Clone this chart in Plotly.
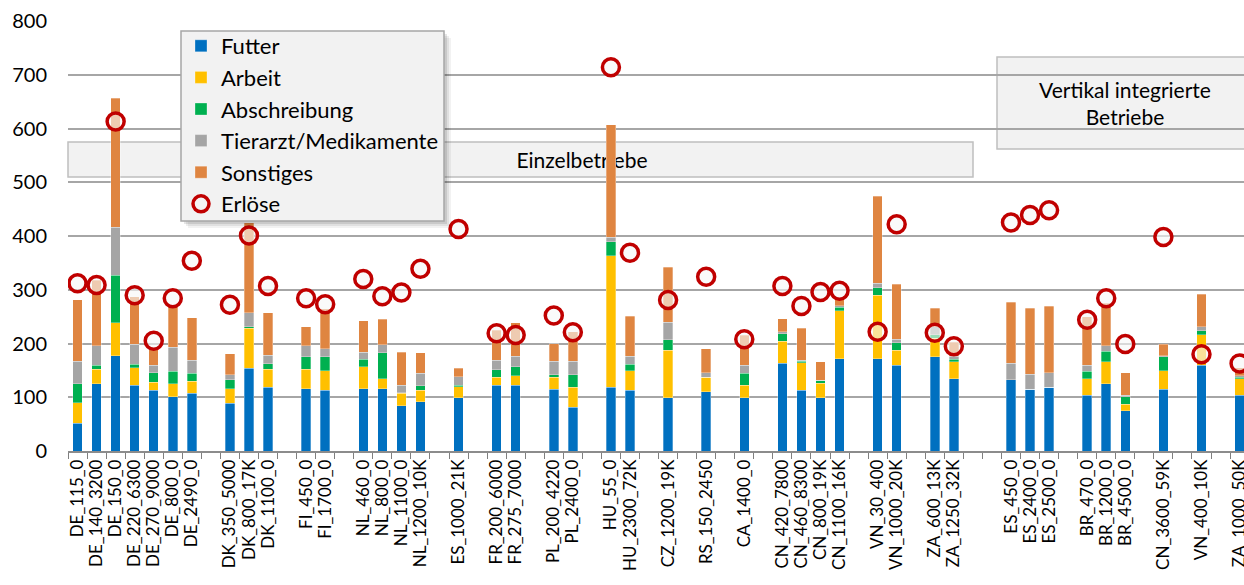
import plotly.graph_objects as go

# Farm groups (Einzelbetriebe, then vertically integrated farms)
single_groups = [
    ["DE_115_0", "DE_140_3200", "DE_150_0", "DE_220_6300", "DE_270_9000", "DE_800_0", "DE_2490_0"],
    ["DK_350_5000", "DK_800_17K", "DK_1100_0"],
    ["FI_450_0", "FI_1700_0"],
    ["NL_460_0", "NL_800_0", "NL_1100_0", "NL_1200_10K"],
    ["ES_1000_21K"],
    ["FR_200_6000", "FR_275_7000"],
    ["PL_200_4220", "PL_2400_0"],
    ["HU_55_0", "HU_2300_72K"],
    ["CZ_1200_19K"],
    ["RS_150_2450"],
    ["CA_1400_0"],
    ["CN_420_7800", "CN_460_8300", "CN_800_19K", "CN_1100_16K"],
    ["VN_30_400", "VN_1000_20K"],
    ["ZA_600_13K", "ZA_1250_32K"],
]
integrated_groups = [
    ["ES_450_0", "ES_2400_0", "ES_2500_0"],
    ["BR_470_0", "BR_1200_0", "BR_4500_0"],
    ["CN_3600_59K"],
    ["VN_400_10K"],
    ["ZA_1000_50K"],
]

# Cost components per farm, in farm order
futter = [52, 125, 177, 122, 113, 101, 107, 89, 154, 119, 116, 113, 116, 116, 84, 92, 99,
          122, 122, 115, 81, 119, 113, 99, 110, 99, 163, 113, 99, 172, 172, 160, 175, 134,
          133, 115, 119, 104, 125, 75, 115, 160, 104]
arbeit = [38, 27, 62, 33, 15, 24, 23, 27, 74, 33, 36, 36, 41, 18, 23, 21, 21,
          15, 18, 22, 38, 244, 36, 88, 27, 23, 41, 51, 27, 89, 118, 27, 35, 32,
          0, 0, 0, 30, 41, 12, 34, 56, 30]
abschreibung = [35, 8, 88, 6, 18, 23, 15, 17, 3, 10, 23, 26, 14, 49, 1, 8, 2,
                14, 17, 5, 23, 26, 12, 20, 0, 23, 14, 3, 5, 6, 14, 14, 6, 5,
                0, 0, 0, 14, 20, 14, 26, 8, 3]
tierarzt = [42, 36, 89, 38, 14, 45, 24, 9, 26, 16, 21, 15, 13, 15, 14, 24, 16,
            18, 19, 25, 25, 9, 15, 33, 9, 15, 4, 2, 1, 3, 8, 7, 15, 5,
            30, 28, 27, 12, 10, 3, 2, 7, 3]
sonstiges = [114, 122, 240, 88, 28, 77, 79, 39, 168, 79, 35, 75, 58, 47, 62, 38, 16,
             56, 63, 33, 55, 209, 75, 102, 44, 55, 24, 59, 34, 15, 162, 102, 35, 26,
             114, 123, 123, 90, 79, 42, 22, 61, 15]
erloese = [312, 309, 613, 290, 205, 284, 354, 272, 401, 307, 284, 273, 320, 288, 295, 339, 413,
           219, 216, 252, 221, 714, 369, 281, 324, 208, 307, 270, 296, 298, 222, 422, 220, 195,
           425, 439, 448, 244, 284, 199, 398, 180, 163]

y_ticks = [0, 100, 200, 300, 400, 500, 600, 700, 800]

# Build category order with empty separator slots between groups
order = []
gap_id = [0]


def add_gap():
    gap_id[0] += 1
    order.append(" " * gap_id[0])


for i, g in enumerate(single_groups):
    if i:
        add_gap()
    order.extend(g)
add_gap()
add_gap()
for i, g in enumerate(integrated_groups):
    if i:
        add_gap()
    order.extend(g)

farms = [f for g in single_groups + integrated_groups for f in g]

FONT = "Lato"
series = [
    ("Futter", futter, "#0070C0"),
    ("Arbeit", arbeit, "#FFC000"),
    ("Abschreibung", abschreibung, "#00B050"),
    ("Tierarzt/Medikamente", tierarzt, "#A5A5A5"),
    ("Sonstiges", sonstiges, "#DF8541"),
]

fig = go.Figure()
for name, vals, col in series:
    fig.add_trace(go.Bar(
        x=farms, y=vals, name=name,
        marker=dict(color=col, line=dict(width=0.6, color="rgba(255,255,255,0.5)")),
    ))

fig.add_trace(go.Scatter(
    x=farms, y=erloese, name="Erlöse", mode="markers",
    marker=dict(symbol="circle", size=17, color="rgba(247,247,247,0.62)",
                line=dict(color="#C00000", width=3.5)),
))

W, H = 1244, 585
ML, MR, MT, MB = 68, 0, 21, 134
PW, PH = W - ML - MR, H - MT - MB


def px_x(px):
    return (px - ML) / PW


def px_y(py):
    return (H - MB - py) / PH


n_visible = PW / 19.05
fig.update_layout(
    width=W, height=H,
    margin=dict(l=ML, r=MR, t=MT, b=MB),
    paper_bgcolor="white", plot_bgcolor="white",
    barmode="stack", bargap=0.5,
    font=dict(family=FONT, color="#000000"),
    showlegend=True,
    legend=dict(
        x=px_x(181), y=px_y(25), xanchor="left", yanchor="top",
        bgcolor="rgba(0,0,0,0)", borderwidth=0,
        font=dict(family=FONT, size=22, color="#000000"),
        traceorder="normal", itemwidth=30,
    ),
    xaxis=dict(
        type="category", categoryorder="array", categoryarray=order,
        tickmode="array", tickvals=order, ticktext=order,
        range=[-0.5, -0.5 + n_visible],
        tickangle=-90, tickfont=dict(family=FONT, size=17, color="#000000"),
        ticks="outside", ticklen=6, tickcolor="#7F7F7F", tickson="boundaries",
        showline=True, linecolor="#8C8C8C", linewidth=1.5,
        showgrid=False, automargin=False,
    ),
    yaxis=dict(
        range=[0, 800], tickvals=y_ticks,
        tickfont=dict(family=FONT, size=20, color="#000000"),
        showgrid=True, gridcolor="#A6A6A6", gridwidth=1.5,
        zeroline=False, showline=False, ticks="",
        ticklabelstandoff=20, automargin=False,
    ),
)

# Section boxes behind the bars
fig.add_shape(type="rect", xref="paper", yref="y", x0=0.0, x1=px_x(973), y0=510, y1=575,
              fillcolor="#F2F2F2", line=dict(color="#BFBFBF", width=1.5), layer="below")
fig.add_shape(type="rect", xref="paper", yref="y", x0=px_x(517), x1=px_x(647), y0=510, y1=575,
              fillcolor="rgba(0,0,0,0)", line=dict(width=0), layer="below",
              label=dict(text="Einzelbetriebe", font=dict(family=FONT, size=21, color="#000000"),
                         textposition="middle center"))
fig.add_shape(type="rect", xref="paper", yref="y", x0=px_x(997), x1=px_x(1253), y0=562, y1=733,
              fillcolor="#F2F2F2", line=dict(color="#BFBFBF", width=1.5), layer="below",
              label=dict(text="Vertikal integrierte<br>Betriebe",
                         font=dict(family=FONT, size=21, color="#000000"),
                         textposition="middle center"))

# Legend panel: soft drop shadow, then the box itself
for k, a in [(7, 0.05), (5, 0.07), (3, 0.10)]:
    fig.add_shape(type="rect", xref="paper", yref="paper",
                  x0=px_x(181 + k), x1=px_x(444 + k), y0=px_y(221 + k), y1=px_y(31 + k),
                  fillcolor=f"rgba(0,0,0,{a})", line=dict(width=0), layer="above")
fig.add_shape(type="rect", xref="paper", yref="paper",
              x0=px_x(181), x1=px_x(444), y0=px_y(221), y1=px_y(31),
              fillcolor="#F2F2F2", line=dict(color="#A6A6A6", width=1.5), layer="above")

fig.write_html("out.html")
